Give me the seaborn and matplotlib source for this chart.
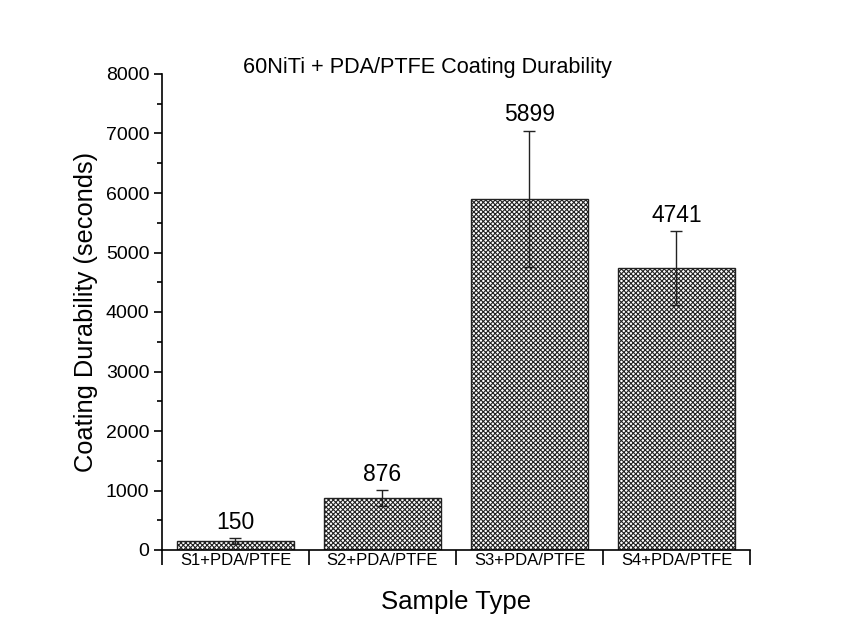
import matplotlib
matplotlib.use("Agg")
import matplotlib.pyplot as plt
from matplotlib.ticker import MultipleLocator, FixedLocator
import seaborn as sns
import pandas as pd

categories = ["S1+PDA/PTFE", "S2+PDA/PTFE", "S3+PDA/PTFE", "S4+PDA/PTFE"]
durability = [150, 876, 5899, 4741]
errors = [50, 135, 1150, 625]
value_labels = ["150", "876", "5899", "4741"]

sns.set_style("white")
plt.rcParams["font.family"] = ["Liberation Sans", "DejaVu Sans"]
plt.rcParams["text.color"] = "black"
plt.rcParams["axes.labelcolor"] = "black"
plt.rcParams["xtick.color"] = "black"
plt.rcParams["ytick.color"] = "black"
plt.rcParams["hatch.linewidth"] = 0.8
plt.rcParams["hatch.color"] = "#111111"

df = pd.DataFrame({"Sample": categories, "Durability": durability})

fig = plt.figure(figsize=(8.54, 6.17), dpi=100)
ax = fig.add_axes([162/854, 1-550/617, (750-162)/854, (550-74)/617])

sns.barplot(data=df, x="Sample", y="Durability", ax=ax, color="white",
            edgecolor="#222222", linewidth=1.0, width=0.8, errorbar=None)
for p in ax.patches:
    p.set_hatch("xxxxxxx")
    p.set_facecolor("white")

ax.errorbar(range(len(categories)), durability, yerr=errors, fmt="none",
            ecolor="#222222", elinewidth=1.0, capsize=4, capthick=1.0, zorder=5)

for i, (v, e, t) in enumerate(zip(durability, errors, value_labels)):
    ax.annotate(t, (i, v + e), xytext=(0, 3), textcoords="offset points",
                ha="center", va="bottom", fontsize=16.5)

ax.set_ylim(0, 8000)
ax.set_xlim(-0.5, 3.5)
ax.yaxis.set_major_locator(MultipleLocator(1000))
ax.yaxis.set_minor_locator(MultipleLocator(500))
ax.tick_params(axis="y", which="major", direction="out", length=6, width=1.2,
               left=True, labelsize=14, pad=3)
ax.tick_params(axis="y", which="minor", direction="out", length=3.5, width=1.2, left=True)

ax.xaxis.set_major_locator(FixedLocator([-0.5, 0.5, 1.5, 2.5, 3.5]))
ax.xaxis.set_major_formatter(plt.NullFormatter())
ax.set_xticks([0, 1, 2, 3], labels=categories, minor=True)
ax.tick_params(axis="x", which="major", direction="out", length=11, width=1.2,
               bottom=True, labelbottom=False)
ax.tick_params(axis="x", which="minor", length=0, labelsize=12, pad=2)

for s in ["top", "right"]:
    ax.spines[s].set_visible(False)
for s in ["left", "bottom"]:
    ax.spines[s].set_linewidth(1.2)
    ax.spines[s].set_color("black")

ax.set_xlabel("Sample Type", fontsize=18.5, labelpad=16)
ax.set_ylabel("Coating Durability (seconds)", fontsize=18.3, labelpad=6)
fig.text(0.5, 1-73/617, "60NiTi + PDA/PTFE Coating Durability", ha="center",
         va="baseline", fontsize=15.6)

fig.savefig("out.png", dpi=100, facecolor="white")
